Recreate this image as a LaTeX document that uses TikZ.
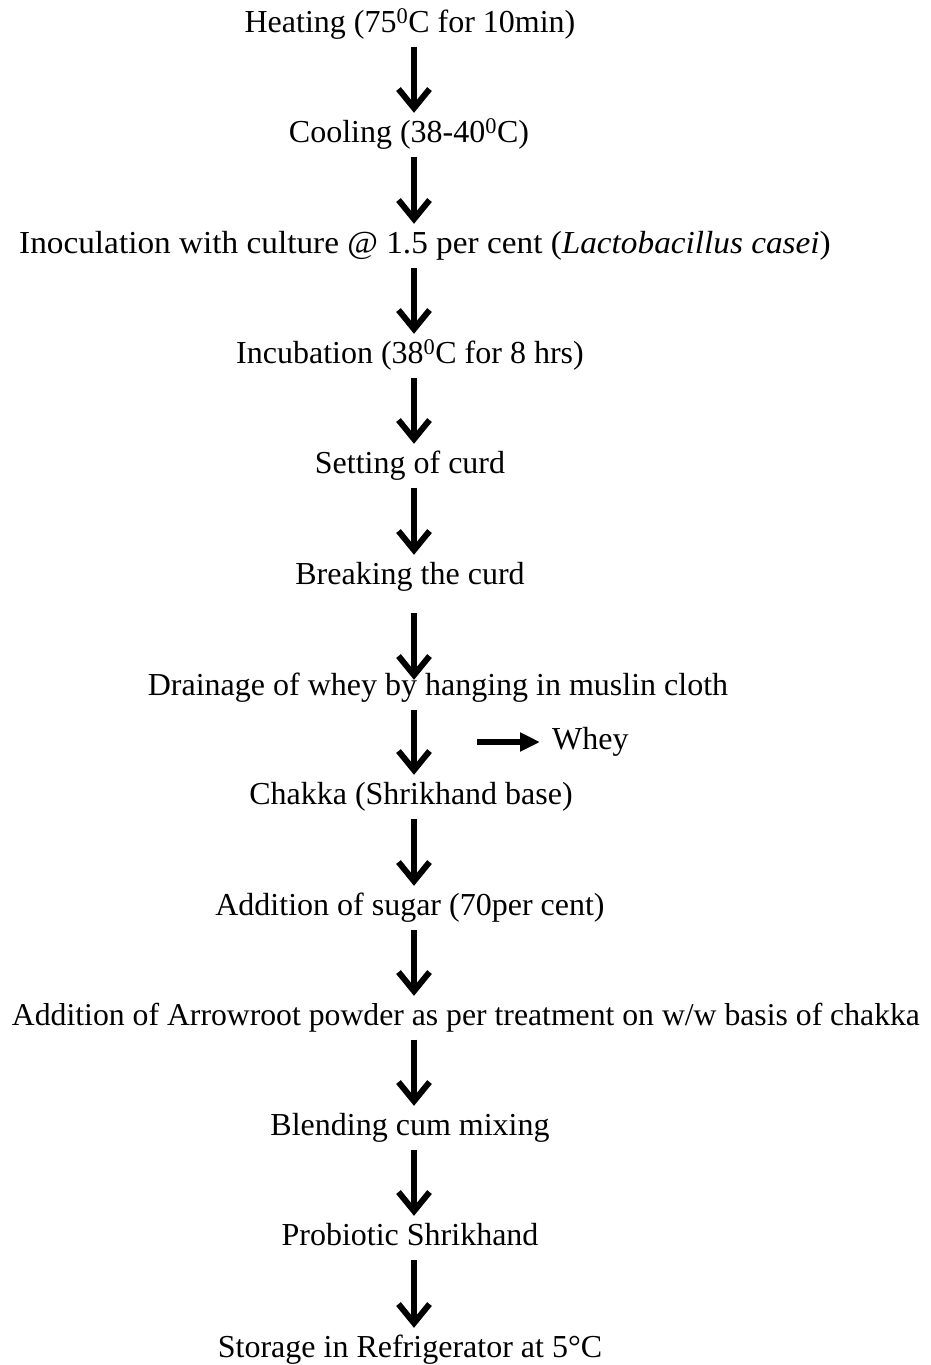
\documentclass[tikz,border=0pt]{standalone}
\usepackage{fontspec}
\setmainfont{Liberation Serif}
\usetikzlibrary{arrows.meta}
\begin{document}
\begin{tikzpicture}[x=1pt,y=-1pt,
  lbl/.style={inner sep=0pt,text height=22pt,text depth=7pt,font=\fontsize{32}{38}\selectfont},
  flow/.style={line width=6pt,-{Straight Barb[length=19pt,width=31pt,line width=6pt]},shorten <=7pt,shorten >=7.5pt},
  side/.style={line width=5.5pt,-{Triangle[length=20pt,width=18pt]}}]
\useasboundingbox (0,0) rectangle (930,1365);
\coordinate (col) at (414,0);
\node[lbl] (n1) at (410,25) {Heating (75\textsuperscript{0}C for 10min)};
\node[lbl] (n2) at (409,135) {Cooling (38-40\textsuperscript{0}C)};
\node[lbl] (n3) at (425,246) {\scalebox{1.04}[1]{Inoculation with culture @ 1.5 per cent (\textit{Lactobacillus casei})}};
\node[lbl] (n4) at (410,356) {Incubation (38\textsuperscript{0}C for 8 hrs)};
\node[lbl] (n5) at (410,466) {Setting of curd};
\node[lbl] (n6) at (410,577) {Breaking the curd};
\node[lbl] (n7) at (438,688) {Drainage of whey by hanging in muslin cloth};
\node[lbl] (n8) at (411,797) {Chakka (Shrikhand base)};
\node[lbl] (n9) at (410,908) {Addition of sugar (70per cent)};
\node[lbl] (n10) at (466,1018) {\resizebox{908pt}{!}{Addition of Arrowroot powder as per treatment on w/w basis of chakka}};
\node[lbl] (n11) at (410,1128) {Blending cum mixing};
\node[lbl] (n12) at (410,1238) {Probiotic Shrikhand};
\node[lbl] (n13) at (410,1350) {Storage in Refrigerator at 5°C};
\node[lbl,anchor=west] (whey) at (552,742) {Whey};
\coordinate (w0) at (477,742);
\foreach \a/\b in {n1/n2,n2/n3,n3/n4,n4/n5,n5/n6,n7/n8,n8/n9,n9/n10,n10/n11,n11/n12,n12/n13}
  \draw[flow] (\a.south -| col) -- (\b.north -| col);
\draw[flow,shorten <=21.5pt,shorten >=-6.5pt] (n6.south -| col) -- (n7.north -| col);
\draw[side,shorten >=12pt] (w0) -- (whey.west);
\end{tikzpicture}
\end{document}
